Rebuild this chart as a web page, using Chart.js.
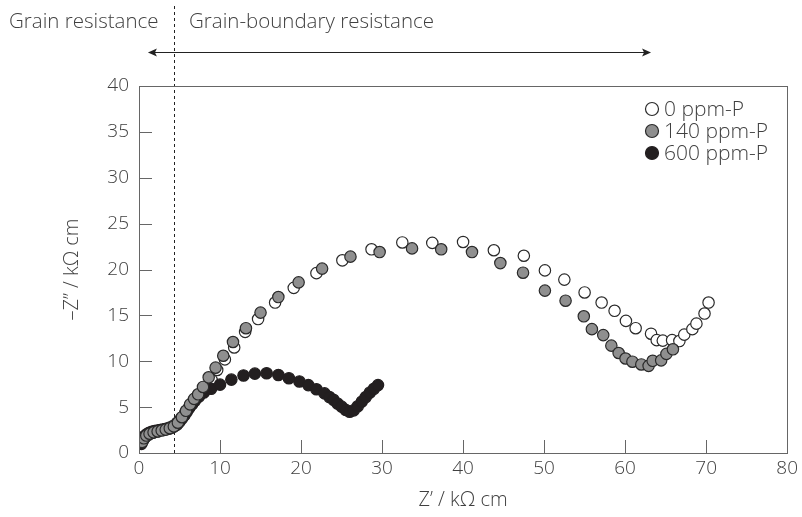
<!DOCTYPE html>
<html>
<head>
<meta charset="utf-8">
<script src="https://cdn.jsdelivr.net/npm/chart.js@4/dist/chart.umd.min.js"></script>
<style>
  html, body { margin: 0; padding: 0; background: #fff; }
  #wrap { width: 802px; height: 517px; position: relative; }
</style>
</head>
<body>
<div id="wrap"><canvas id="c" width="802" height="517"></canvas></div>
<script>
// ---- Data (Z' / kΩ cm, -Z'' / kΩ cm) ----
const seriesNames = ['0 ppm-P', '140 ppm-P', '600 ppm-P'];

const p0_x = [0.5, 0.8, 1.2, 1.7, 2.2, 2.7, 3.2, 3.7, 4.2, 4.7, 5.2, 5.7, 6.2, 6.7, 7.3, 7.9, 8.96, 9.65, 10.6, 11.75, 13.1, 14.7, 16.8, 19.1, 21.9, 25.1, 28.7, 32.5, 36.2, 40.0, 43.8, 47.5, 50.1, 52.5, 55.0, 57.1, 58.7, 60.1, 61.3, 63.2, 63.9, 64.65, 65.8, 66.7, 67.3, 68.3, 68.8, 69.8, 70.3];
const p0_y = [1.4, 1.75, 2.0, 2.2, 2.35, 2.5, 2.6, 2.75, 2.95, 3.3, 3.8, 4.4, 5.0, 5.6, 6.3, 7.0, 7.96, 9.05, 10.2, 11.5, 13.2, 14.6, 16.4, 18.0, 19.6, 21.0, 22.2, 22.95, 22.9, 23.0, 22.1, 21.5, 19.9, 18.9, 17.5, 16.4, 15.5, 14.4, 13.6, 13.0, 12.3, 12.25, 12.3, 12.2, 12.9, 13.5, 14.1, 15.2, 16.4];

const p140_x = [0.4, 0.6, 0.9, 1.3, 1.8, 2.3, 2.8, 3.3, 3.8, 4.3, 4.8, 5.3, 5.8, 6.3, 6.8, 7.3, 7.9, 8.6, 9.45, 10.4, 11.6, 13.2, 15.0, 17.2, 19.7, 22.6, 26.1, 29.7, 33.7, 37.3, 41.1, 44.6, 47.4, 50.1, 52.65, 54.9, 55.9, 57.3, 58.3, 59.2, 60.05, 60.9, 62.0, 62.9, 63.4, 64.45, 65.1, 65.9];
const p140_y = [1.2, 1.6, 1.9, 2.1, 2.25, 2.35, 2.45, 2.55, 2.7, 2.9, 3.3, 3.9, 4.6, 5.3, 5.9, 6.4, 7.2, 8.25, 9.3, 10.6, 12.1, 13.6, 15.3, 17.0, 18.6, 20.1, 21.4, 21.9, 22.3, 22.2, 21.9, 20.7, 19.65, 17.7, 16.6, 14.9, 13.5, 12.85, 11.7, 10.9, 10.3, 9.95, 9.65, 9.5, 10.05, 10.1, 10.8, 11.3];

const p600_x = [0.3, 0.35, 0.5, 0.7, 0.95, 1.25, 1.55, 1.9, 2.25, 2.6, 2.95, 3.3, 3.65, 4.0, 4.35, 4.7, 5.0, 5.3, 5.6, 5.9, 6.2, 6.55, 6.9, 7.4, 8.0, 8.9, 10.0, 11.4, 12.9, 14.3, 15.75, 17.2, 18.5, 19.8, 20.9, 21.9, 22.9, 23.5, 24.0, 24.5, 25.0, 25.5, 26.0, 26.5, 27.0, 27.5, 28.0, 28.5, 29.0, 29.5];
const p600_y = [1.0, 1.3, 1.6, 1.85, 2.05, 2.2, 2.3, 2.4, 2.45, 2.5, 2.55, 2.6, 2.65, 2.75, 2.9, 3.1, 3.4, 3.75, 4.1, 4.5, 4.9, 5.3, 5.7, 6.15, 6.6, 7.0, 7.45, 8.0, 8.45, 8.65, 8.7, 8.5, 8.15, 7.8, 7.4, 6.95, 6.5, 6.1, 5.8, 5.4, 5.05, 4.7, 4.5, 4.65, 5.1, 5.6, 6.1, 6.6, 7.0, 7.4];

const xTicks = [0, 10, 20, 30, 40, 50, 60, 70, 80];
const yTicks = [0, 5, 10, 15, 20, 25, 30, 35, 40];
const boundaryX = 4.3;           // dashed separator (Z')
const arrowFromX = 1.1, arrowToX = 63.2;  // arrow span (Z')
const labelLeft = 'Grain resistance';
const labelRight = 'Grain-boundary resistance';
const xTitle = 'Z’ / kΩ cm';
const yTitle = '–Z’’ / kΩ cm';

const FONT = "'Open Sans', 'DejaVu Sans', sans-serif";
const TXT = '#404040';
const AXIS = '#666';

function pts(xs, ys) { return xs.map((x, i) => ({ x: x, y: ys[i] })); }

const styles = [
  { fill: '#ffffff', stroke: '#2a2a2a' },
  { fill: '#8f8f8f', stroke: '#2a2a2a' },
  { fill: '#231f20', stroke: '#231f20' }
];

const decor = {
  id: 'decor',
  beforeDatasetsDraw(chart) {
    const ctx = chart.ctx, xs = chart.scales.x;
    const a = chart.chartArea;
    ctx.save();
    const bx = Math.round(xs.getPixelForValue(boundaryX)) + 0.5;
    ctx.strokeStyle = '#222';
    ctx.lineWidth = 1;
    ctx.setLineDash([3, 3]);
    ctx.beginPath();
    ctx.moveTo(bx, 6);
    ctx.lineTo(bx, a.bottom);
    ctx.stroke();
    ctx.setLineDash([]);
    ctx.restore();
  },
  afterDraw(chart) {
    const ctx = chart.ctx, xs = chart.scales.x, ys = chart.scales.y;
    const a = chart.chartArea;
    ctx.save();
    // frame
    ctx.strokeStyle = AXIS;
    ctx.lineWidth = 1;
    ctx.strokeRect(Math.round(a.left) + 0.5, Math.round(a.top) + 0.5, Math.round(a.right - a.left), Math.round(a.bottom - a.top));
    // inward ticks
    ctx.beginPath();
    xTicks.forEach(v => {
      const px = Math.round(xs.getPixelForValue(v)) + 0.5;
      ctx.moveTo(px, a.bottom); ctx.lineTo(px, a.bottom - 13);
    });
    yTicks.forEach(v => {
      const py = Math.round(ys.getPixelForValue(v)) + 0.5;
      ctx.moveTo(a.left, py); ctx.lineTo(a.left + 13, py);
    });
    ctx.stroke();

    // top annotations
    ctx.fillStyle = TXT;
    ctx.font = '300 20.5px ' + FONT;
    ctx.textBaseline = 'middle';
    ctx.textAlign = 'left';
    ctx.fillText(labelLeft, 9, 22);
    ctx.fillText(labelRight, 189, 22);

    // double arrow
    const x1 = xs.getPixelForValue(arrowFromX), x2 = xs.getPixelForValue(arrowToX);
    const ay = 52.5;
    ctx.strokeStyle = '#222';
    ctx.fillStyle = '#222';
    ctx.lineWidth = 1;
    ctx.beginPath(); ctx.moveTo(x1 + 4, ay); ctx.lineTo(x2 - 4, ay); ctx.stroke();
    ctx.beginPath(); ctx.moveTo(x1, ay); ctx.lineTo(x1 + 9, ay - 4); ctx.lineTo(x1 + 7, ay); ctx.lineTo(x1 + 9, ay + 4); ctx.closePath(); ctx.fill();
    ctx.beginPath(); ctx.moveTo(x2, ay); ctx.lineTo(x2 - 9, ay - 4); ctx.lineTo(x2 - 7, ay); ctx.lineTo(x2 - 9, ay + 4); ctx.closePath(); ctx.fill();

    // legend
    const lx = 652, ly0 = 109, dy = 22;
    seriesNames.forEach((name, i) => {
      const y = ly0 + i * dy;
      ctx.beginPath();
      ctx.arc(lx, y, 6.5, 0, Math.PI * 2);
      ctx.fillStyle = styles[i].fill;
      ctx.fill();
      ctx.strokeStyle = styles[i].stroke;
      ctx.lineWidth = 1.2;
      ctx.stroke();
      ctx.fillStyle = TXT;
      ctx.font = '300 21px ' + FONT;
      ctx.textAlign = 'left';
      ctx.textBaseline = 'middle';
      ctx.fillText(name, lx + 12, y + 1);
    });
    ctx.restore();
  }
};

const datasets = [
  { label: seriesNames[0], data: pts(p0_x, p0_y), order: 3 },
  { label: seriesNames[1], data: pts(p140_x, p140_y), order: 1 },
  { label: seriesNames[2], data: pts(p600_x, p600_y), order: 2 }
].map((d, i) => Object.assign(d, {
  backgroundColor: styles[i].fill,
  borderColor: styles[i].stroke,
  pointBackgroundColor: styles[i].fill,
  pointBorderColor: styles[i].stroke,
  pointBorderWidth: 1.2,
  pointRadius: 5.7,
  pointHoverRadius: 5.7,
  showLine: false
}));

new Chart(document.getElementById('c'), {
  type: 'scatter',
  data: { datasets },
  plugins: [decor],
  options: {
    responsive: false,
    animation: false,
    events: [],
    layout: { padding: { top: 86, right: 14, left: 0, bottom: 0 } },
    plugins: { legend: { display: false }, tooltip: { enabled: false } },
    scales: {
      x: {
        type: 'linear', min: 0, max: 80,
        afterFit: s => { s.height = 64; },
        afterBuildTicks: s => { s.ticks = xTicks.map(v => ({ value: v })); },
        grid: { display: false, drawTicks: false },
        border: { display: true, color: AXIS },
        ticks: { padding: 4, color: TXT, font: { family: FONT, size: 19, weight: '300' }, maxRotation: 0 },
        title: { display: true, text: xTitle, color: TXT, font: { family: FONT, size: 20, weight: '300' }, padding: { top: 0, bottom: 5 } }
      },
      y: {
        type: 'linear', min: 0, max: 40,
        afterFit: s => { s.width = 139; },
        afterBuildTicks: s => { s.ticks = yTicks.map(v => ({ value: v })); },
        grid: { display: false, drawTicks: false },
        border: { display: true, color: AXIS },
        ticks: { padding: 10, color: TXT, font: { family: FONT, size: 19, weight: '300' } },
        title: { display: true, text: yTitle, color: TXT, font: { family: FONT, size: 20, weight: '300' }, padding: { top: 60, bottom: 0 } }
      }
    }
  }
});
</script>
</body>
</html>
